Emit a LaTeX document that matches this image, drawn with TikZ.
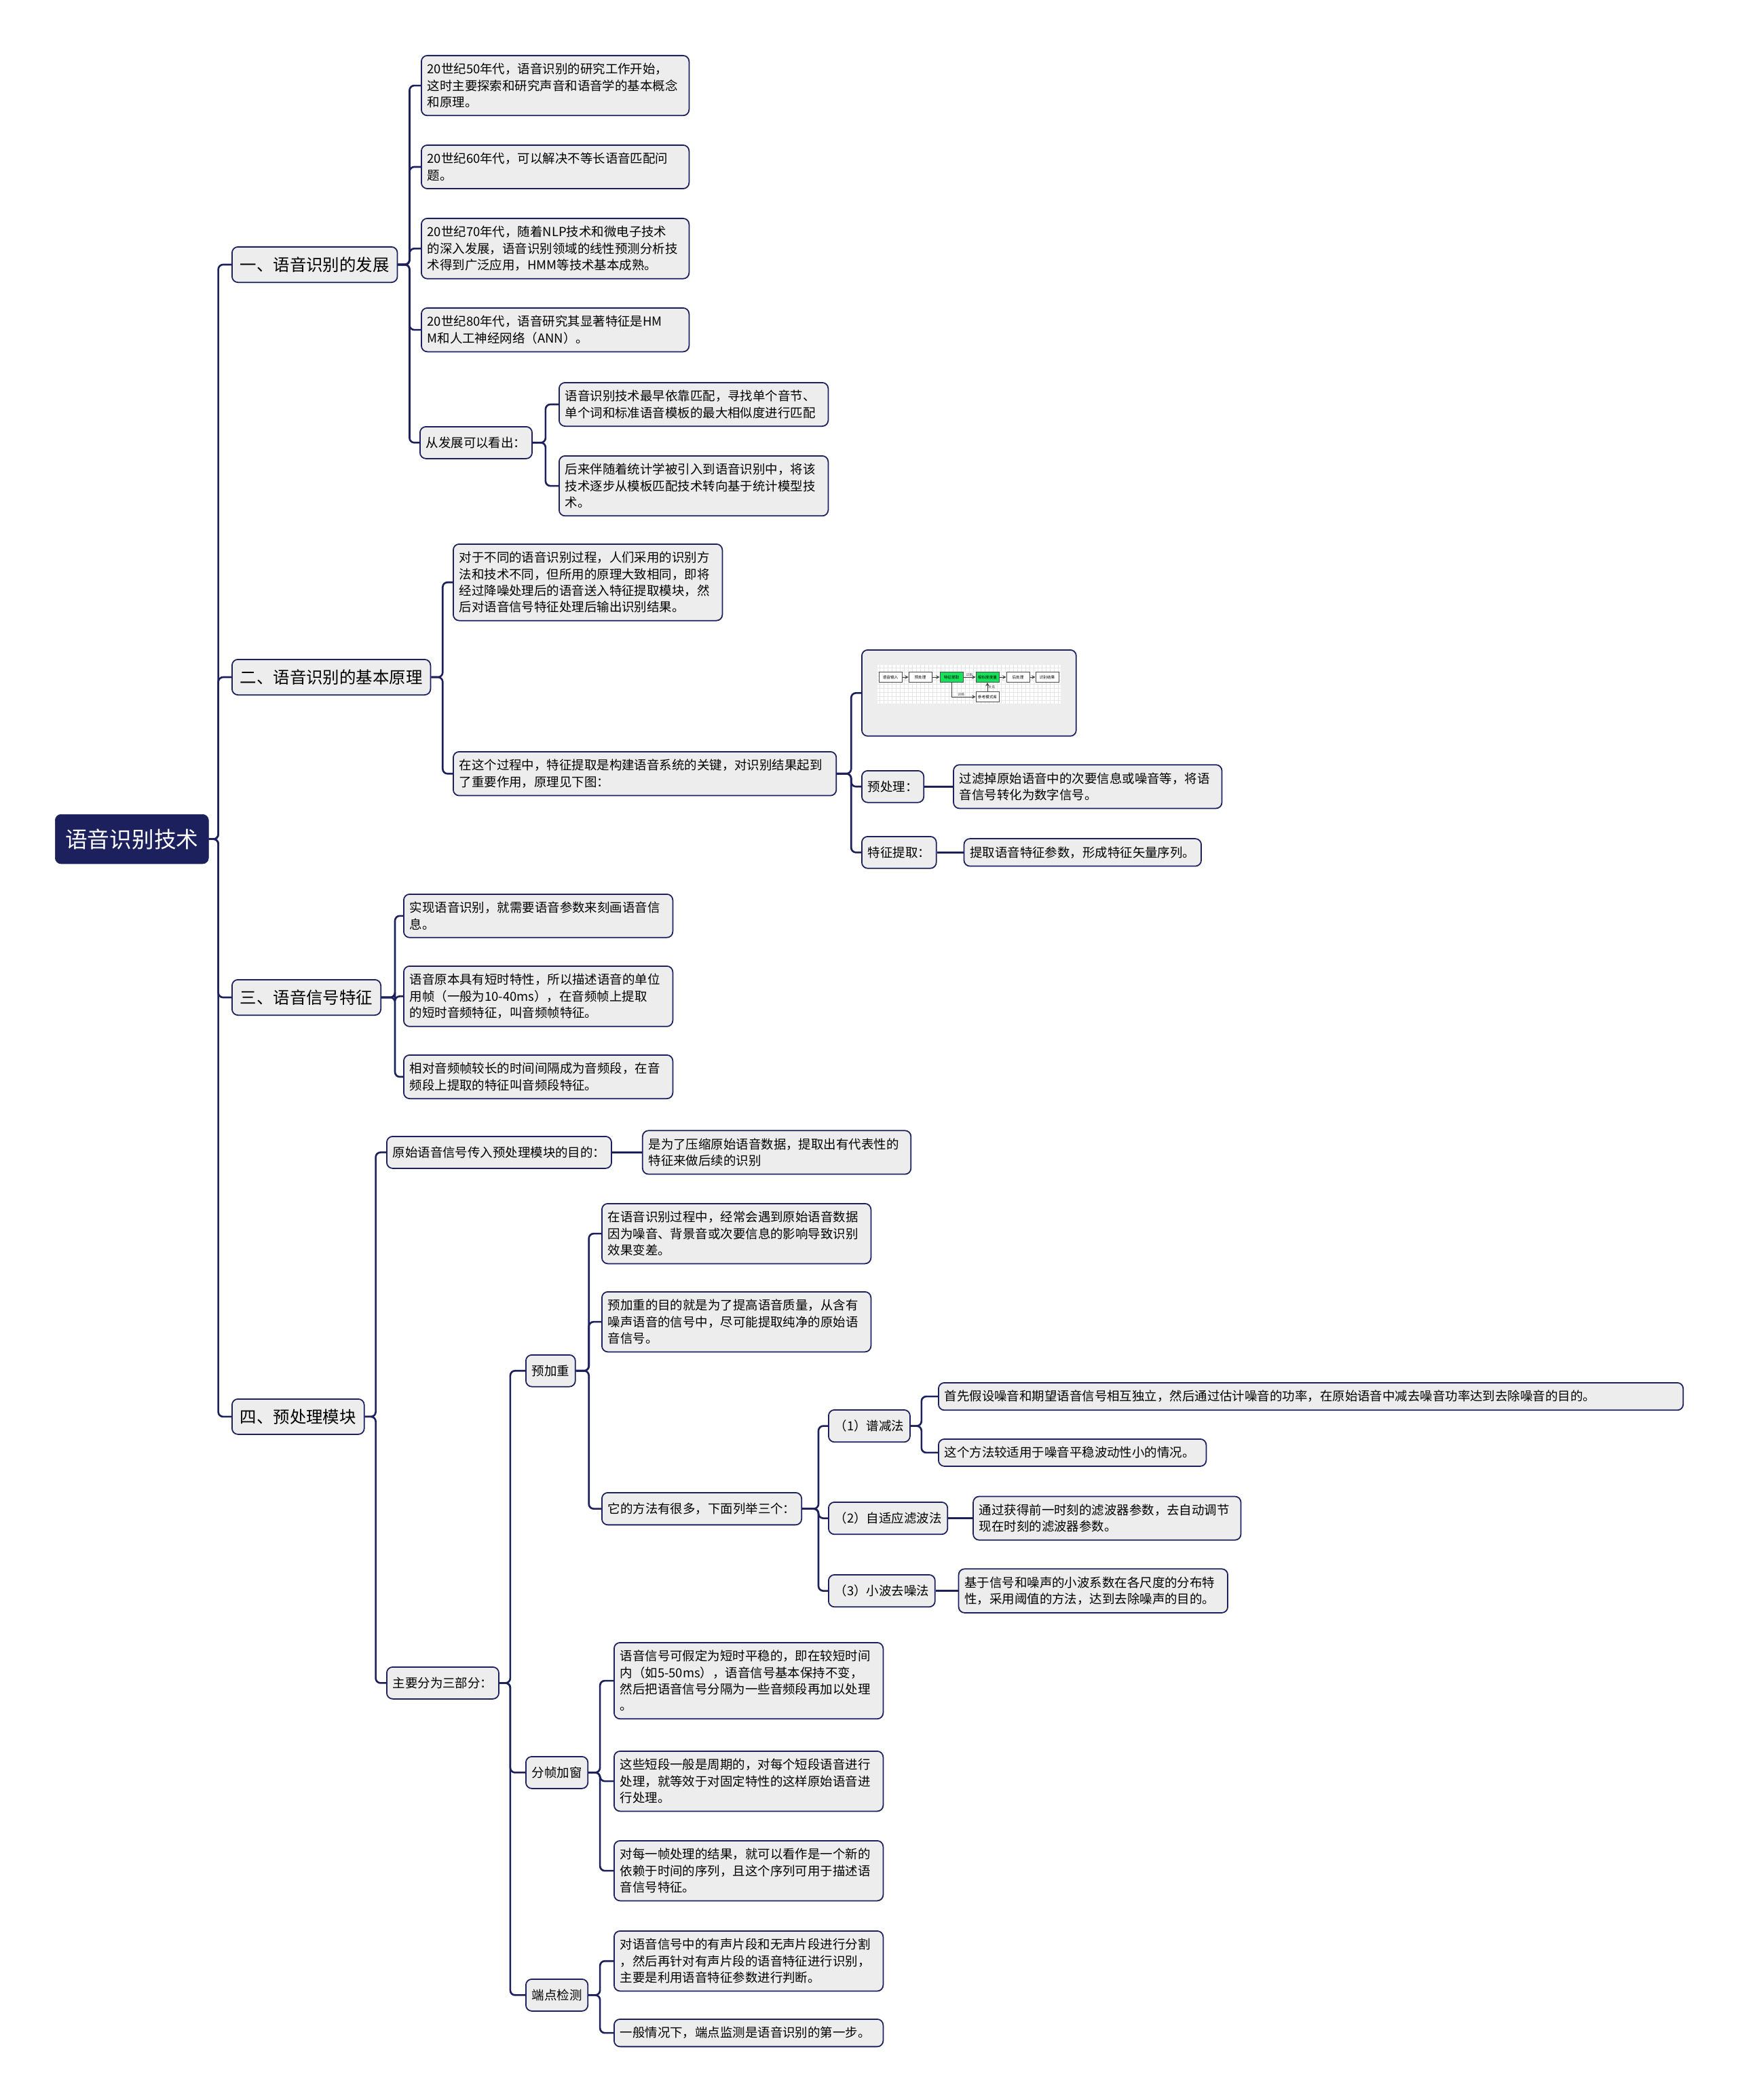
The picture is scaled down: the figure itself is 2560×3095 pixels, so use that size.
\documentclass[tikz,border=0pt]{standalone}
\usepackage{fontspec}
\setmainfont{Noto Sans CJK SC}
\usepackage{xcolor}
\usepackage{tikz}
\usetikzlibrary{arrows,positioning}

\definecolor{navy}{HTML}{1C215E}
\definecolor{boxgray}{HTML}{EDEDED}
\definecolor{minigreen}{HTML}{14E35A}

\begin{document}
\begin{tikzpicture}[
        x=0.02cm, y=-0.02cm,
        every node/.style={font=\fontsize{10.5}{13.8}\selectfont},
        root/.style={draw=navy, fill=navy, text=white, rounded corners=5pt, inner xsep=8.5pt, inner ysep=12pt, font=\fontsize{18.6}{22}\selectfont, anchor=north west},
        topic/.style={draw=navy, fill=boxgray, line width=1pt, rounded corners=5pt, inner xsep=6.8pt, inner ysep=8.4pt, font=\fontsize{13.9}{16}\selectfont, anchor=north west},
        leaf/.style={draw=navy, fill=boxgray, line width=1pt, rounded corners=5pt, inner xsep=5pt, inner ysep=6.5pt, align=left, anchor=north west},
        tag/.style={leaf, inner ysep=8.5pt},
        link/.style={draw=navy, line width=1.5pt, rounded corners=4pt},
        mini/.style={draw=black!70, fill=white, line width=0.4pt, minimum width=0.68cm, minimum height=0.3cm, inner sep=0pt, font=\fontsize{3.2}{3.5}\selectfont},
        minilabel/.style={font=\fontsize{2.8}{3}\selectfont, inner sep=0.6pt},
        miniarrow/.style={->, >=stealth, line width=0.4pt, black!75},
    ]
        \useasboundingbox[fill=white] (0,0) rectangle (2560,3095);

        % Root
        \node (main) [root] at (81,1200) {语音识别技术};

        % Main topics
        \node (dev) [topic] at (341,363) {一、语音识别的发展};
        \node (basic) [topic] at (341,971) {二、语音识别的基本原理};
        \node (signal) [topic] at (341,1443) {三、语音信号特征};
        \node (prepro) [topic] at (341,2061) {四、预处理模块};

        % Topic 1
        \node (dev50) [leaf, text width=7.54cm] at (620,81) {20世纪50年代，语音识别的研究工作开始，\\这时主要探索和研究声音和语音学的基本概念\\和原理。};
        \node (dev60) [leaf, text width=7.54cm] at (620,213) {20世纪60年代，可以解决不等长语音匹配问\\题。};
        \node (dev70) [leaf, text width=7.54cm] at (620,321) {20世纪70年代，随着NLP技术和微电子技术\\的深入发展，语音识别领域的线性预测分析技\\术得到广泛应用，HMM等技术基本成熟。};
        \node (dev80) [leaf, text width=7.54cm] at (620,453) {20世纪80年代，语音研究其显著特征是HM\\M和人工神经网络（ANN）。};
        \node (devsum) [tag] at (618,628) {从发展可以看出：};
        \node (early) [leaf, text width=7.58cm] at (823,563) {语音识别技术最早依靠匹配，寻找单个音节、\\单个词和标准语音模板的最大相似度进行匹配};
        \node (later) [leaf, text width=7.58cm] at (823,671) {后来伴随着统计学被引入到语音识别中，将该\\技术逐步从模板匹配技术转向基于统计模型技\\术。};

        % Topic 2
        \node (basictxt) [leaf, text width=7.58cm] at (667,801) {对于不同的语音识别过程，人们采用的识别方\\法和技术不同，但所用的原理大致相同，即将\\经过降噪处理后的语音送入特征提取模块，然\\后对语音信号特征处理后输出识别结果。};
        \node (keystep) [leaf, text width=10.94cm] at (667,1107) {在这个过程中，特征提取是构建语音系统的关键，对识别结果起到\\了重要作用，原理见下图：};
        \node (flowimg) [leaf, minimum width=6.32cm, minimum height=2.54cm] at (1269,957) {};
        \node (pretag) [tag] at (1269,1135) {预处理：};
        \node (feattag) [tag] at (1269,1232) {特征提取：};
        \node (pretxt) [leaf, text width=7.56cm, right=0.84cm of pretag] {过滤掉原始语音中的次要信息或噪音等，将语\\音信号转化为数字信号。};
        \node (feattxt) [leaf, right=0.78cm of feattag] {提取语音特征参数，形成特征矢量序列。};

        % Flow picture inside the box
        \fill[white] (1293,980) rectangle (1563,1037);
        \draw[gray!20, line width=0.2pt, step=0.12cm] (1293,980) grid (1563,1037);
        \node (m1) [mini] at (1312,998) {语音输入};
        \node (m2) [mini] at (1356,998) {预处理};
        \node (m3) [mini, fill=minigreen] at (1402,998) {特征提取};
        \node (m4) [mini, fill=minigreen] at (1455,998) {相似度度量};
        \node (m5) [mini] at (1500,998) {后处理};
        \node (m6) [mini] at (1543,998) {识别结果};
        \node (m7) [mini] at (1455,1027) {参考模式库};
        \draw [miniarrow] (m1) -- (m2);
        \draw [miniarrow] (m2) -- (m3);
        \draw [miniarrow] (m3) -- node[above, minilabel] {识别} (m4);
        \draw [miniarrow] (m4) -- (m5);
        \draw [miniarrow] (m5) -- (m6);
        \draw [miniarrow] (m3.south) |- node[pos=0.7, above, minilabel] {训练} (m7.west);
        \draw [miniarrow] (m7) -- node[right, minilabel] {补充} (m4);

        % Topic 3
        \node (sig1) [leaf, text width=7.58cm] at (594,1317) {实现语音识别，就需要语音参数来刻画语音信\\息。};
        \node (sig2) [leaf, text width=7.58cm] at (594,1423) {语音原本具有短时特性，所以描述语音的单位\\用帧（一般为10-40ms），在音频帧上提取\\的短时音频特征，叫音频帧特征。};
        \node (sig3) [leaf, text width=7.58cm] at (594,1554) {相对音频帧较长的时间间隔成为音频段，在音\\频段上提取的特征叫音频段特征。};

        % Topic 4
        \node (goal) [tag] at (569,1674) {原始语音信号传入预处理模块的目的：};
        \node (goaltxt) [leaf, text width=7.56cm, right=0.88cm of goal] {是为了压缩原始语音数据，提取出有代表性的\\特征来做后续的识别};
        \node (parts) [tag] at (569,2456) {主要分为三部分：};
        \node (emph) [tag] at (774,1996) {预加重};
        \node (framing) [tag] at (774,2588) {分帧加窗};
        \node (endpt) [tag] at (774,2916) {端点检测};

        \node (emph1) [leaf, text width=7.58cm] at (886,1773) {在语音识别过程中，经常会遇到原始语音数据\\因为噪音、背景音或次要信息的影响导致识别\\效果变差。};
        \node (emph2) [leaf, text width=7.58cm] at (886,1903) {预加重的目的就是为了提高语音质量，从含有\\噪声语音的信号中，尽可能提取纯净的原始语\\音信号。};
        \node (methods) [tag] at (886,2199) {它的方法有很多，下面列举三个：};
        \node (spec) [tag] at (1220,2077) {（1）谱减法};
        \node (adapt) [tag] at (1220,2213) {（2）自适应滤波法};
        \node (wavelet) [tag] at (1220,2320) {（3）小波去噪法};
        \node (spec1) [leaf, text width=21.6cm] at (1382,2037) {首先假设噪音和期望语音信号相互独立，然后通过估计噪音的功率，在原始语音中减去噪音功率达到去除噪音的目的。};
        \node (spec2) [leaf, text width=7.54cm] at (1382,2120) {这个方法较适用于噪音平稳波动性小的情况。};
        \node (adapttxt) [leaf, text width=7.54cm, right=0.72cm of adapt] {通过获得前一时刻的滤波器参数，去自动调节\\现在时刻的滤波器参数。};
        \node (wavetxt) [leaf, text width=7.58cm, right=0.66cm of wavelet] {基于信号和噪声的小波系数在各尺度的分布特\\性，采用阈值的方法，达到去除噪声的目的。};

        \node (frm1) [leaf, text width=7.58cm] at (904,2420) {语音信号可假定为短时平稳的，即在较短时间\\内（如5-50ms），语音信号基本保持不变，\\然后把语音信号分隔为一些音频段再加以处理\\。};
        \node (frm2) [leaf, text width=7.58cm] at (904,2580) {这些短段一般是周期的，对每个短段语音进行\\处理，就等效于对固定特性的这样原始语音进\\行处理。};
        \node (frm3) [leaf, text width=7.58cm] at (904,2712) {对每一帧处理的结果，就可以看作是一个新的\\依赖于时间的序列，且这个序列可用于描述语\\音信号特征。};
        \node (end1) [leaf, text width=7.58cm] at (904,2845) {对语音信号中的有声片段和无声片段进行分割\\，然后再针对有声片段的语音特征进行识别，\\主要是利用语音特征参数进行判断。};
        \node (end2) [leaf, text width=7.58cm] at (904,2975) {一般情况下，端点监测是语音识别的第一步。};

        % --- Edges ---
        % Root to topics
        \draw [link] (main.east) -- ++(14,0) |- (dev.west);
        \draw [link] (main.east) -- ++(14,0) |- (basic.west);
        \draw [link] (main.east) -- ++(14,0) |- (signal.west);
        \draw [link] (main.east) -- ++(14,0) |- (prepro.west);

        % Topic 1
        \draw [link] (dev.east) -- ++(17,0) |- (dev50.west);
        \draw [link] (dev.east) -- ++(17,0) |- (dev60.west);
        \draw [link] (dev.east) -- ++(17,0) |- (dev70.west);
        \draw [link] (dev.east) -- ++(17,0) |- (dev80.west);
        \draw [link] (dev.east) -- ++(17,0) |- (devsum.west);
        \draw [link] (devsum.east) -- ++(19,0) |- (early.west);
        \draw [link] (devsum.east) -- ++(19,0) |- (later.west);

        % Topic 2
        \draw [link] (basic.east) -- ++(17,0) |- (basictxt.west);
        \draw [link] (basic.east) -- ++(17,0) |- (keystep.west);
        \draw [link] (keystep.east) -- ++(21,0) |- (flowimg.west);
        \draw [link] (keystep.east) -- ++(21,0) |- (pretag.west);
        \draw [link] (keystep.east) -- ++(21,0) |- (feattag.west);
        \draw [link] (pretag) -- (pretxt);
        \draw [link] (feattag) -- (feattxt);

        % Topic 3
        \draw [link] (signal.east) -- ++(20,0) |- (sig1.west);
        \draw [link] (signal.east) -- ++(20,0) |- (sig2.west);
        \draw [link] (signal.east) -- ++(20,0) |- (sig3.west);

        % Topic 4
        \draw [link] (prepro.east) -- ++(16,0) |- (goal.west);
        \draw [link] (prepro.east) -- ++(16,0) |- (parts.west);
        \draw [link] (goal) -- (goaltxt);
        \draw [link] (parts.east) -- ++(16,0) |- (emph.west);
        \draw [link] (parts.east) -- ++(16,0) |- (framing.west);
        \draw [link] (parts.east) -- ++(16,0) |- (endpt.west);

        % Pre-emphasis
        \draw [link] (emph.east) -- ++(19,0) |- (emph1.west);
        \draw [link] (emph.east) -- ++(19,0) |- (emph2.west);
        \draw [link] (emph.east) -- ++(19,0) |- (methods.west);
        \draw [link] (methods.east) -- ++(24,0) |- (spec.west);
        \draw [link] (methods.east) -- ++(24,0) |- (adapt.west);
        \draw [link] (methods.east) -- ++(24,0) |- (wavelet.west);
        \draw [link] (spec.east) -- ++(16,0) |- (spec1.west);
        \draw [link] (spec.east) -- ++(16,0) |- (spec2.west);
        \draw [link] (adapt) -- (adapttxt);
        \draw [link] (wavelet) -- (wavetxt);

        % Framing and endpoint detection
        \draw [link] (framing.east) -- ++(17,0) |- (frm1.west);
        \draw [link] (framing.east) -- ++(17,0) |- (frm2.west);
        \draw [link] (framing.east) -- ++(17,0) |- (frm3.west);
        \draw [link] (endpt.east) -- ++(17,0) |- (end1.west);
        \draw [link] (endpt.east) -- ++(17,0) |- (end2.west);

    \end{tikzpicture}
\end{document}
